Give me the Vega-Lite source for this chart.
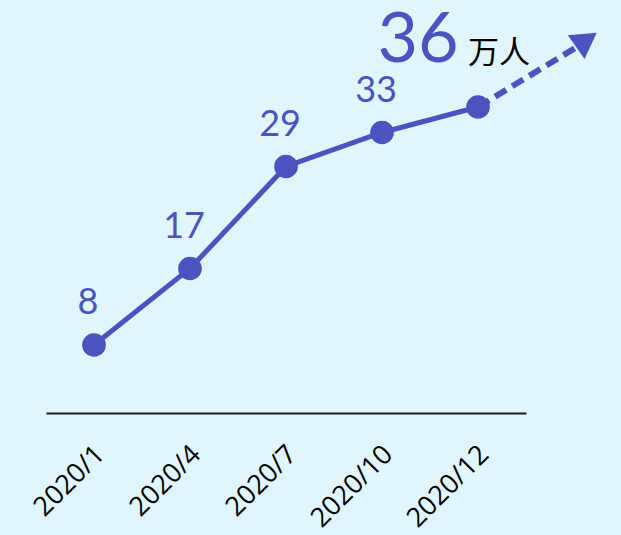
{
  "$schema": "https://vega.github.io/schema/vega-lite/v6.json",
  "width": 480,
  "height": 408,
  "autosize": {"type": "none"},
  "padding": {"left": 46, "top": 5, "right": 95, "bottom": 122},
  "background": "#e0f6fc",
  "config": {"view": {"stroke": null}},
  "datasets": {
    "main": [
      {"i": 0, "month": "2020/1", "value": 8, "label": "8"},
      {"i": 1, "month": "2020/4", "value": 17, "label": "17"},
      {"i": 2, "month": "2020/7", "value": 29, "label": "29"},
      {"i": 3, "month": "2020/10", "value": 33, "label": "33"},
      {"i": 4, "month": "2020/12", "value": 36, "label": ""}
    ],
    "ext": [
      {"i": 4, "value": 36},
      {"i": 5.05, "value": 43.2}
    ],
    "head": [
      {"i": 5.13, "value": 43.9}
    ],
    "note": [
      {"i": 4, "value": 36, "big": "36", "unit": "万人"}
    ]
  },
  "encoding": {
    "x": {
      "field": "i",
      "type": "quantitative",
      "scale": {"domain": [-0.5, 4.5], "nice": false, "zero": false},
      "axis": {
        "title": null,
        "values": [0, 1, 2, 3, 4],
        "labelExpr": "['2020/1','2020/4','2020/7','2020/10','2020/12'][datum.value]",
        "ticks": false,
        "grid": false,
        "domainColor": "#1a1a1a",
        "domainWidth": 2,
        "labelAngle": -45,
        "labelAlign": "right",
        "labelBaseline": "middle",
        "labelPadding": 37,
        "labelOffset": 6,
        "labelFontSize": 27,
        "labelFont": "Open Sans",
        "labelColor": "#000000",
        "labelFlush": false,
        "labelOverlap": false
      }
    },
    "y": {
      "field": "value",
      "type": "quantitative",
      "scale": {"domain": [0, 48], "nice": false},
      "axis": null
    }
  },
  "layer": [
    {
      "data": {"name": "ext"},
      "mark": {"type": "line", "color": "#4a54c1", "strokeWidth": 6, "strokeDash": [13, 7], "clip": false}
    },
    {
      "data": {"name": "head"},
      "mark": {"type": "point", "shape": "triangle-up", "size": 841, "filled": true, "opacity": 1, "color": "#4a54c1", "angle": 55, "clip": false}
    },
    {
      "data": {"name": "main"},
      "mark": {"type": "line", "color": "#4a54c1", "strokeWidth": 5}
    },
    {
      "data": {"name": "main"},
      "mark": {"type": "circle", "size": 560, "opacity": 1, "color": "#4a54c1"}
    },
    {
      "data": {"name": "main"},
      "mark": {"type": "text", "color": "#4a54c1", "fontSize": 36, "font": "Lato", "dx": -6, "dy": -42, "baseline": "middle", "align": "center"},
      "encoding": {"text": {"field": "label"}}
    },
    {
      "data": {"name": "note"},
      "mark": {"type": "text", "color": "#4a54c1", "fontSize": 70, "font": "Lato", "dx": -60, "dy": -45, "baseline": "alphabetic", "align": "center"},
      "encoding": {"text": {"field": "big"}}
    },
    {
      "data": {"name": "note"},
      "mark": {"type": "text", "color": "#000000", "fontSize": 31, "font": "Noto Sans CJK SC", "dx": -10, "dy": -44, "baseline": "alphabetic", "align": "left"},
      "encoding": {"text": {"field": "unit"}}
    }
  ]
}
